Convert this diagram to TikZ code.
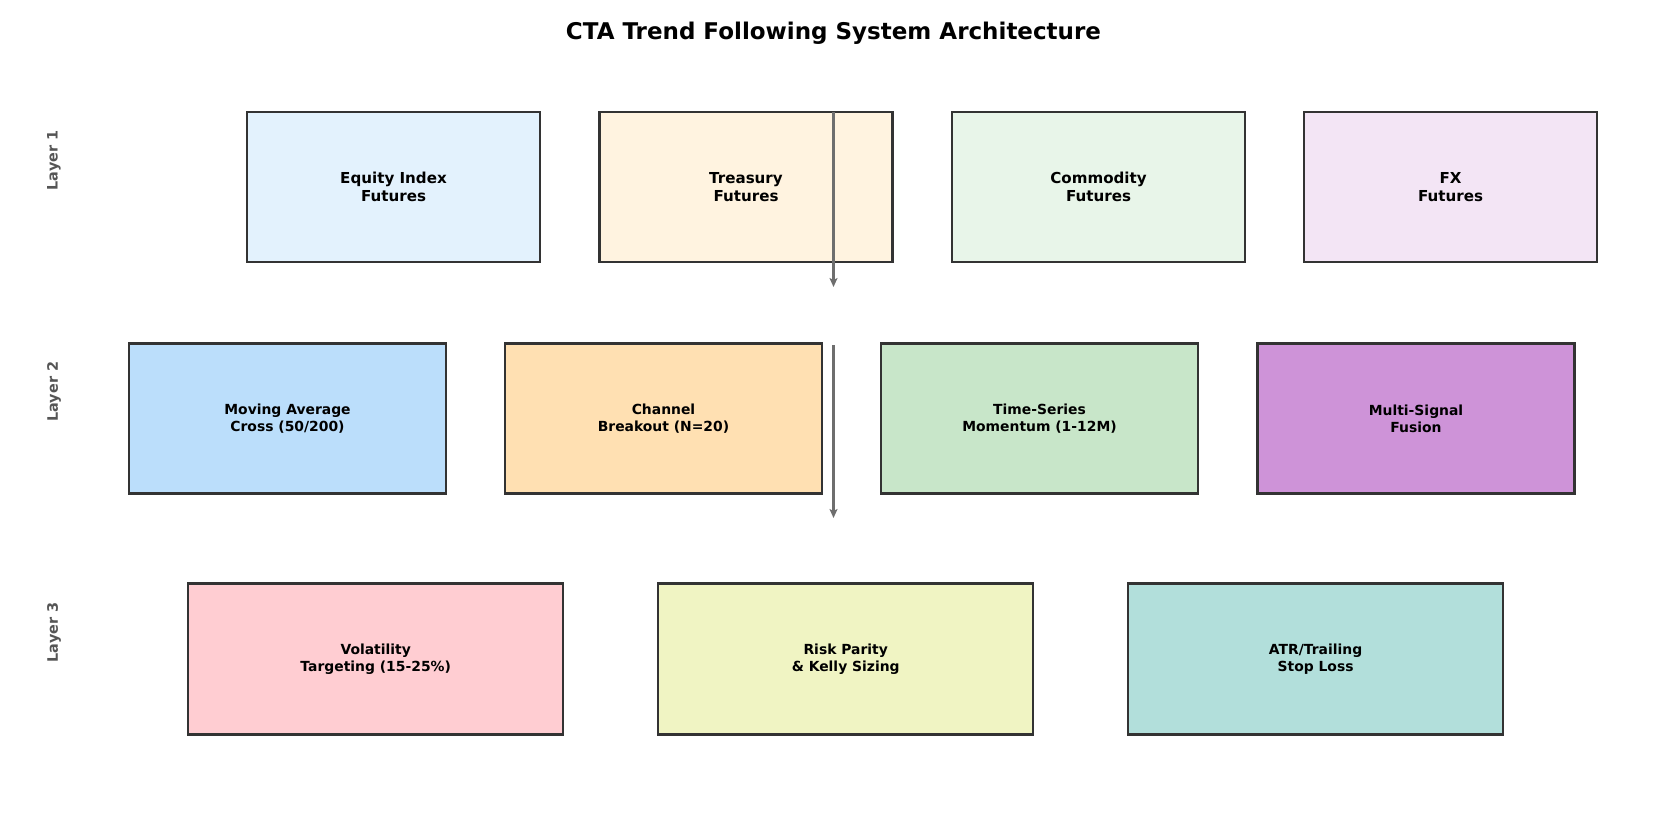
\documentclass[tikz,border=0pt]{standalone}
\usepackage{fontspec}
\setmainfont{DejaVu Sans}
\usetikzlibrary{arrows.meta}
\definecolor{edgec}{HTML}{333333}
\definecolor{arrc}{HTML}{6E6E6E}
\definecolor{labc}{HTML}{555555}
\definecolor{cA}{HTML}{E3F2FD}
\definecolor{cB}{HTML}{FFF3E0}
\definecolor{cC}{HTML}{E8F5E9}
\definecolor{cD}{HTML}{F3E5F5}
\definecolor{cE}{HTML}{BBDEFB}
\definecolor{cF}{HTML}{FFE0B2}
\definecolor{cG}{HTML}{C8E6C9}
\definecolor{cH}{HTML}{CE93D8}
\definecolor{cI}{HTML}{FFCDD2}
\definecolor{cJ}{HTML}{F0F4C3}
\definecolor{cK}{HTML}{B2DFDB}
\begin{document}
\begin{tikzpicture}[x=1pt,y=-1pt,
  box/.style={draw=edgec, line width=2.2pt, rectangle, inner sep=0pt, align=center},
  rowA/.style={box, minimum width=293pt, minimum height=150pt,
    font=\fontsize{15.1}{18}\selectfont\bfseries},
  rowB/.style={box, minimum width=317pt, minimum height=150pt,
    font=\fontsize{13.9}{16.8}\selectfont\bfseries},
  rowC/.style={box, minimum width=375pt, minimum height=151pt,
    font=\fontsize{13.9}{16.8}\selectfont\bfseries},
  layerlab/.style={rotate=90, text=labc, font=\fontsize{14.4}{17}\selectfont\bfseries},
  flow/.style={draw=arrc, line width=2.6pt, -{Stealth[length=9pt,width=8pt,inset=2pt]}}
]
\useasboundingbox (0,0) rectangle (1667,827);
\node[font=\fontsize{23.0}{27}\selectfont\bfseries] (title) at (833.5,33) {CTA Trend Following System Architecture};

\node[layerlab] (l1) at (54,160.5) {Layer 1};
\node[layerlab] (l2) at (54,391.7) {Layer 2};
\node[layerlab] (l3) at (54,632.5) {Layer 3};

\node[rowA, fill=cA] (a1) at (393.5,187) {Equity Index\\Futures};
\node[rowA, fill=cB] (a2) at (746,187) {Treasury\\Futures};
\node[rowA, fill=cC] (a3) at (1098.5,187) {Commodity\\Futures};
\node[rowA, fill=cD] (a4) at (1450.5,187) {FX\\Futures};

\node[rowB, fill=cE] (b1) at (287.5,418.5) {Moving Average\\Cross (50/200)};
\node[rowB, fill=cF] (b2) at (663.5,418.5) {Channel\\Breakout (N=20)};
\node[rowB, fill=cG] (b3) at (1039.5,418.5) {Time-Series\\Momentum (1-12M)};
\node[rowB, fill=cH] (b4) at (1416,418.5) {Multi-Signal\\Fusion};

\node[rowC, fill=cI] (c1) at (375.7,659) {Volatility\\Targeting (15-25\%)};
\node[rowC, fill=cJ] (c2) at (845.7,659) {Risk Parity\\\& Kelly Sizing};
\node[rowC, fill=cK] (c3) at (1315.6,659) {ATR/Trailing\\Stop Loss};

\coordinate (f1s) at (833.5,112);
\coordinate (f1e) at (833.5,287);
\coordinate (f2s) at (833.5,345);
\coordinate (f2e) at (833.5,518);
\draw[flow] (f1s) -- (f1e);
\draw[flow] (f2s) -- (f2e);
\end{tikzpicture}
\end{document}
